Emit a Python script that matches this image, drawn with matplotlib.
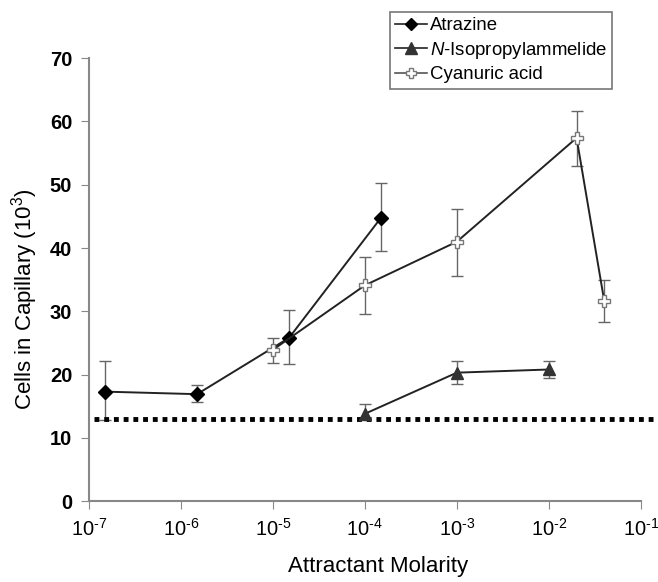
import matplotlib.pyplot as plt
from matplotlib.lines import Line2D

plt.rcParams['font.family'] = ['Liberation Sans', 'DejaVu Sans']
plt.rcParams['mathtext.fontset'] = 'custom'
plt.rcParams['mathtext.rm'] = 'Liberation Sans'
plt.rcParams['mathtext.it'] = 'Liberation Sans:italic'

# atrazine
atr_x = [1.5e-7, 1.5e-6, 1.5e-5, 1.5e-4]
atr_y = [17.3, 16.9, 25.8, 44.8]
atr_lo = [4.5, 1.2, 4.2, 5.3]
atr_hi = [4.8, 1.4, 4.4, 5.5]

# N-isopropylammelide
nip_x = [1e-4, 1e-3, 1e-2]
nip_y = [13.8, 20.3, 20.8]
nip_lo = [0.8, 1.8, 1.3]
nip_hi = [1.6, 1.9, 1.4]

# cyanuric acid
cya_x = [1e-5, 1e-4, 1e-3, 2e-2, 4e-2]
cya_y = [23.9, 34.1, 41.0, 57.4, 31.6]
cya_lo = [2.0, 4.6, 5.4, 4.4, 3.3]
cya_hi = [1.8, 4.5, 5.2, 4.2, 3.4]

baseline = 12.9

xtick_pos = [1e-7, 1e-6, 1e-5, 1e-4, 1e-3, 1e-2, 1e-1]
xtick_exp = ['7', '6', '5', '4', '3', '2', '1']

fig = plt.figure(figsize=(6.58, 5.82), dpi=100)
ax = fig.add_axes([0.135, 0.139, 0.839, 0.761])

ax.errorbar(atr_x, atr_y, yerr=[atr_lo, atr_hi], color='#222222', lw=1.4,
            marker='D', ms=7, mfc='black', mec='black', ecolor='#666666',
            elinewidth=1, capsize=4)
ax.errorbar(nip_x, nip_y, yerr=[nip_lo, nip_hi], color='#222222', lw=1.4,
            marker='^', ms=9, mfc='#333333', mec='#333333', ecolor='#666666',
            elinewidth=1, capsize=4)
ax.errorbar(cya_x, cya_y, yerr=[cya_lo, cya_hi], color='#222222', lw=1.4,
            marker='P', ms=9, mfc='white', mec='#777777', ecolor='#666666',
            elinewidth=1, capsize=4)

ax.plot([1.15e-7, 0.135], [baseline, baseline], color='black', lw=3.5,
        linestyle=(0, (1, 1)), clip_on=False)

ax.set_xscale('log')
ax.set_xlim(1e-7, 1e-1)
ax.set_ylim(0, 70)
ax.set_yticks(range(0, 71, 10))
ax.set_xticks(xtick_pos)
ax.set_xticklabels(['$10^{\\text{-}%s}$' % e for e in xtick_exp])
ax.minorticks_off()
for lab in ax.get_yticklabels():
    lab.set_fontweight('bold')
ax.tick_params(axis='y', labelsize=14.5, direction='out', length=6, color='#888888', pad=6)
ax.tick_params(axis='x', labelsize=14.5, direction='out', length=6, color='#888888', pad=6)

for s in ['top', 'right']:
    ax.spines[s].set_visible(False)
for s in ['left', 'bottom']:
    ax.spines[s].set_color('#888888')
    ax.spines[s].set_linewidth(1.5)

fig.text(0.038, 0.486, 'Cells in Capillary (10$^3$)', fontsize=16,
         rotation=90, ha='center', va='center')
fig.text(0.575, 0.026, 'Attractant Molarity', fontsize=16,
         ha='center', va='center')

handles = [
    Line2D([], [], color='#222222', lw=1.2, marker='D', ms=6, mfc='black', mec='black'),
    Line2D([], [], color='#222222', lw=1.2, marker='^', ms=8, mfc='#333333', mec='#333333'),
    Line2D([], [], color='#555555', lw=1.2, marker='P', ms=7, mfc='white', mec='#777777'),
]
labels = ['Atrazine', '$\\it{N}$-Isopropylammelide', 'Cyanuric acid']
leg = fig.legend(handles, labels, loc='upper left', bbox_to_anchor=(0.592, 0.98),
                 fontsize=13.4, frameon=True, fancybox=False, edgecolor='#555555',
                 handlelength=1.7, handletextpad=0.15, borderpad=0.3,
                 labelspacing=0.3, borderaxespad=0)
leg.get_frame().set_linewidth(1.2)

fig.savefig('out.png', dpi=100)
